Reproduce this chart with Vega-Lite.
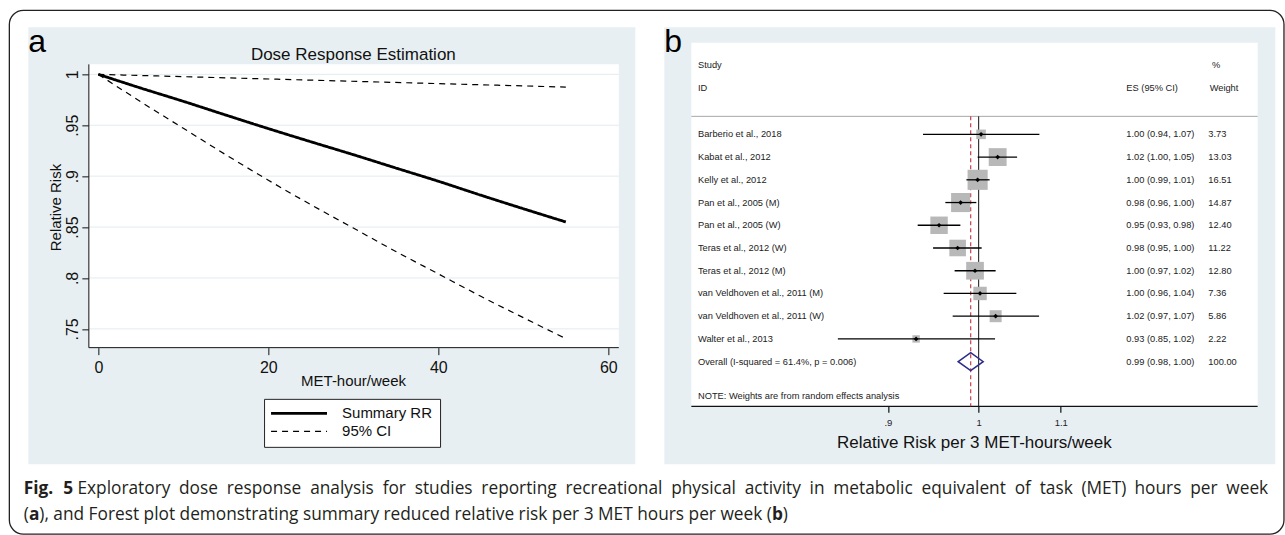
{
  "$schema": "https://vega.github.io/schema/vega-lite/v6.json",
  "background": "white",
  "padding": {"left": 8.35, "top": 9.35, "right": 0, "bottom": 0},
  "autosize": {"type": "pad"},
  "config": {
    "view": {"stroke": null},
    "font": "Liberation Sans",
    "axis": {"labelFont": "Liberation Sans", "titleFont": "Liberation Sans"}
  },
  "datasets": {
    "dose": [
      {"met": 0, "rr": 1.0, "curve": "Summary", "series": "Summary RR"},
      {"met": 5, "rr": 0.9865, "curve": "Summary", "series": "Summary RR"},
      {"met": 10, "rr": 0.9735, "curve": "Summary", "series": "Summary RR"},
      {"met": 15, "rr": 0.96, "curve": "Summary", "series": "Summary RR"},
      {"met": 20, "rr": 0.9467, "curve": "Summary", "series": "Summary RR"},
      {"met": 25, "rr": 0.9338, "curve": "Summary", "series": "Summary RR"},
      {"met": 30, "rr": 0.9211, "curve": "Summary", "series": "Summary RR"},
      {"met": 35, "rr": 0.908, "curve": "Summary", "series": "Summary RR"},
      {"met": 40, "rr": 0.895, "curve": "Summary", "series": "Summary RR"},
      {"met": 45, "rr": 0.8813, "curve": "Summary", "series": "Summary RR"},
      {"met": 50, "rr": 0.868, "curve": "Summary", "series": "Summary RR"},
      {"met": 55, "rr": 0.855, "curve": "Summary", "series": "Summary RR"},
      {"met": 0, "rr": 1.0, "curve": "Upper", "series": "95% CI"},
      {"met": 11, "rr": 0.9975, "curve": "Upper", "series": "95% CI"},
      {"met": 22, "rr": 0.995, "curve": "Upper", "series": "95% CI"},
      {"met": 33, "rr": 0.9925, "curve": "Upper", "series": "95% CI"},
      {"met": 44, "rr": 0.99, "curve": "Upper", "series": "95% CI"},
      {"met": 55, "rr": 0.9875, "curve": "Upper", "series": "95% CI"},
      {"met": 0, "rr": 1.0, "curve": "Lower", "series": "95% CI"},
      {"met": 5, "rr": 0.973, "curve": "Lower", "series": "95% CI"},
      {"met": 10, "rr": 0.947, "curve": "Lower", "series": "95% CI"},
      {"met": 15, "rr": 0.921, "curve": "Lower", "series": "95% CI"},
      {"met": 20, "rr": 0.896, "curve": "Lower", "series": "95% CI"},
      {"met": 25, "rr": 0.872, "curve": "Lower", "series": "95% CI"},
      {"met": 30, "rr": 0.849, "curve": "Lower", "series": "95% CI"},
      {"met": 35, "rr": 0.826, "curve": "Lower", "series": "95% CI"},
      {"met": 40, "rr": 0.804, "curve": "Lower", "series": "95% CI"},
      {"met": 45, "rr": 0.782, "curve": "Lower", "series": "95% CI"},
      {"met": 50, "rr": 0.761, "curve": "Lower", "series": "95% CI"},
      {"met": 55, "rr": 0.7404, "curve": "Lower", "series": "95% CI"}
    ],
    "grid": [{"v": 0.75}, {"v": 0.8}, {"v": 0.85}, {"v": 0.9}, {"v": 0.95}, {"v": 1.0}],
    "forest": [
      {"study": "Barberio et al., 2018", "row": 1, "es": 1.0028, "lo": 0.9375, "hi": 1.073, "weight": 3.73, "ci": "1.00 (0.94, 1.07)", "type": "study"},
      {"study": "Kabat et al., 2012", "row": 2, "es": 1.0223, "lo": 0.9988, "hi": 1.0456, "weight": 13.03, "ci": "1.02 (1.00, 1.05)", "type": "study"},
      {"study": "Kelly et al., 2012", "row": 3, "es": 0.9988, "lo": 0.9859, "hi": 1.0128, "weight": 16.51, "ci": "1.00 (0.99, 1.01)", "type": "study"},
      {"study": "Pan et al., 2005 (M)", "row": 4, "es": 0.9793, "lo": 0.9621, "hi": 0.9973, "weight": 14.87, "ci": "0.98 (0.96, 1.00)", "type": "study"},
      {"study": "Pan et al., 2005 (W)", "row": 5, "es": 0.9551, "lo": 0.9317, "hi": 0.979, "weight": 12.4, "ci": "0.95 (0.93, 0.98)", "type": "study"},
      {"study": "Teras et al., 2012 (W)", "row": 6, "es": 0.9759, "lo": 0.9485, "hi": 1.0035, "weight": 11.22, "ci": "0.98 (0.95, 1.00)", "type": "study"},
      {"study": "Teras et al., 2012 (M)", "row": 7, "es": 0.9958, "lo": 0.9725, "hi": 1.0199, "weight": 12.8, "ci": "1.00 (0.97, 1.02)", "type": "study"},
      {"study": "van Veldhoven et al., 2011 (M)", "row": 8, "es": 1.0016, "lo": 0.9602, "hi": 1.0447, "weight": 7.36, "ci": "1.00 (0.96, 1.04)", "type": "study"},
      {"study": "van Veldhoven et al., 2011 (W)", "row": 9, "es": 1.0199, "lo": 0.9703, "hi": 1.0726, "weight": 5.86, "ci": "1.02 (0.97, 1.07)", "type": "study"},
      {"study": "Walter et al., 2013", "row": 10, "es": 0.93, "lo": 0.8493, "hi": 1.0192, "weight": 2.22, "ci": "0.93 (0.85, 1.02)", "type": "study"},
      {"study": "Overall  (I-squared = 61.4%, p = 0.006)", "row": 11, "es": 0.9908, "lo": 0.9764, "hi": 1.0051, "weight": 100.0, "ci": "0.99 (0.98, 1.00)", "type": "overall"}
    ]
  },
  "hconcat": [
    {
      "width": 607,
      "height": 437,
      "view": {"fill": "#e8eff2", "stroke": null},
      "resolve": {"axis": {"x": "independent", "y": "independent"}},
      "layer": [
        {
          "data": {"values": [{}]},
          "mark": {"type": "rect", "fill": "white"},
          "encoding": {
            "x": {
              "datum": -1.118, "type": "quantitative",
              "scale": {"domain": [-8.235, 63.18], "nice": false, "zero": false},
              "axis": {
                "orient": "bottom", "offset": -116.7, "values": [0, 20, 40, 60], "format": "d",
                "domain": false, "grid": false, "tickSize": 7, "tickColor": "#111", "tickWidth": 1,
                "labelFontSize": 16, "labelColor": "#111", "labelPadding": 4.5, "labelFlush": false, "labelOverlap": false,
                "title": "MET-hour/week", "titleFontSize": 15, "titleFontWeight": "normal", "titleColor": "#111",
                "titleX": 324.7, "titleY": 26.2, "titleBaseline": "top", "titleAlign": "center"
              }
            },
            "x2": {"datum": 61.235},
            "y": {
              "datum": 1.00982, "type": "quantitative",
              "scale": {"domain": [0.6169, 1.04617], "nice": false, "zero": false},
              "axis": {
                "orient": "left", "offset": -60.5, "values": [0.75, 0.8, 0.85, 0.9, 0.95, 1],
                "labelExpr": "datum.value >= 1 ? '1' : substring(format(datum.value, '.2~f'), 1)",
                "domain": false, "grid": false, "tickSize": 7, "tickColor": "#111", "tickWidth": 1,
                "labelAngle": -90, "labelAlign": "center", "labelBaseline": "alphabetic", "labelPadding": 4,
                "labelFontSize": 16, "labelColor": "#111", "labelFlush": false, "labelOverlap": false,
                "title": "Relative Risk", "titleFontSize": 15, "titleFontWeight": "normal", "titleColor": "#111",
                "titleAngle": -90, "titleAlign": "center", "titleBaseline": "middle", "titleX": -33.5, "titleY": 179.7
              }
            },
            "y2": {"datum": 0.73153}
          }
        },
        {
          "data": {"name": "grid"},
          "mark": {"type": "rule", "color": "#e2ebef", "strokeWidth": 1},
          "encoding": {
            "x": {"datum": -1.118, "type": "quantitative", "axis": null},
            "x2": {"datum": 61.235},
            "y": {"field": "v", "type": "quantitative", "axis": null}
          }
        },
        {
          "data": {"values": [{}]},
          "mark": {"type": "rule", "color": "#111", "strokeWidth": 1},
          "encoding": {
            "x": {"datum": -1.118, "type": "quantitative", "axis": null},
            "y": {"datum": 1.00982, "type": "quantitative", "axis": null},
            "y2": {"datum": 0.73153}
          }
        },
        {
          "data": {"values": [{}]},
          "mark": {"type": "rule", "color": "#111", "strokeWidth": 1},
          "encoding": {
            "x": {"datum": -1.118, "type": "quantitative", "axis": null},
            "x2": {"datum": 61.235},
            "y": {"datum": 0.73153, "type": "quantitative", "axis": null}
          }
        },
        {
          "data": {"name": "dose"},
          "mark": {"type": "line", "color": "#000", "interpolate": "monotone"},
          "encoding": {
            "x": {"field": "met", "type": "quantitative", "axis": null},
            "y": {"field": "rr", "type": "quantitative", "axis": null},
            "detail": {"field": "curve", "type": "nominal"},
            "strokeDash": {
              "field": "series", "type": "nominal",
              "scale": {"domain": ["Summary RR", "95% CI"], "range": [[1, 0], [6, 5]]},
              "legend": {
                "orient": "none", "legendX": 235.7, "legendY": 371.5, "title": null, "direction": "vertical",
                "symbolType": "M-1.25,0H8.08", "symbolSize": 144, "symbolStrokeColor": "#000", "symbolFillColor": "transparent",
                "symbolOffset": 0, "labelOffset": 56, "labelFont": "Liberation Sans", "labelFontSize": 15, "labelColor": "#111",
                "labelLimit": 300, "padding": 7, "rowPadding": 2, "strokeColor": "#222", "fillColor": "#ffffff", "cornerRadius": 0
              }
            },
            "strokeWidth": {
              "field": "series", "type": "ordinal",
              "scale": {"domain": ["Summary RR", "95% CI"], "range": [2.8, 1.2]},
              "legend": {
                "orient": "none", "legendX": 235.7, "legendY": 371.5, "title": null, "direction": "vertical",
                "symbolType": "M-1.25,0H8.08", "symbolSize": 144, "symbolStrokeColor": "#000", "symbolFillColor": "transparent",
                "symbolOffset": 0, "labelOffset": 56, "labelFont": "Liberation Sans", "labelFontSize": 15, "labelColor": "#111",
                "labelLimit": 300, "padding": 7, "rowPadding": 2, "strokeColor": "#222", "fillColor": "#ffffff", "cornerRadius": 0
              }
            }
          }
        },
        {
          "data": {"values": [{}]},
          "mark": {"type": "text", "text": "Dose Response Estimation", "font": "Liberation Sans", "fontSize": 17, "color": "#111", "align": "center", "baseline": "middle"},
          "encoding": {
            "x": {"datum": 30.0, "type": "quantitative", "axis": null},
            "y": {"datum": 1.0194, "type": "quantitative", "axis": null}
          }
        },
        {
          "data": {"values": [{}]},
          "mark": {"type": "text", "text": "a", "font": "Liberation Sans", "fontSize": 32, "color": "#000", "align": "left", "baseline": "alphabetic"},
          "encoding": {
            "x": {"datum": -8.235, "type": "quantitative", "axis": null},
            "y": {"datum": 1.0216, "type": "quantitative", "axis": null}
          }
        },
        {
          "data": {"values": [{}]},
          "mark": {"type": "rect", "fill": null, "filled": false, "stroke": "#222", "strokeWidth": 1.3, "cornerRadius": 14},
          "encoding": {
            "x": {"datum": -10.4706, "type": "quantitative", "axis": null},
            "x2": {"datum": 139.494},
            "y": {"datum": 1.06287, "type": "quantitative", "axis": null},
            "y2": {"datum": 0.54843}
          }
        },
        {"data": {"values": [{}]}, "mark": {"type": "text", "text": "Fig.", "font": "Open Sans", "fontSize": 17.3, "fontWeight": "bold", "color": "#231f20", "align": "left", "baseline": "alphabetic"},
         "encoding": {"x": {"datum": -8.7647, "type": "quantitative", "axis": null}, "y": {"datum": 0.58743, "type": "quantitative", "axis": null}}},
        {"data": {"values": [{}]}, "mark": {"type": "text", "text": "5", "font": "Open Sans", "fontSize": 17.3, "fontWeight": "bold", "color": "#231f20", "align": "left", "baseline": "alphabetic"},
         "encoding": {"x": {"datum": -4.1176, "type": "quantitative", "axis": null}, "y": {"datum": 0.58743, "type": "quantitative", "axis": null}}},
        {"data": {"values": [{}]}, "mark": {"type": "text", "text": "Exploratory", "font": "Open Sans", "fontSize": 17.3, "color": "#231f20", "align": "left", "baseline": "alphabetic"},
         "encoding": {"x": {"datum": -2.4588, "type": "quantitative", "axis": null}, "y": {"datum": 0.58743, "type": "quantitative", "axis": null}}},
        {"data": {"values": [{}]}, "mark": {"type": "text", "text": "dose", "font": "Open Sans", "fontSize": 17.3, "color": "#231f20", "align": "left", "baseline": "alphabetic"},
         "encoding": {"x": {"datum": 9.4929, "type": "quantitative", "axis": null}, "y": {"datum": 0.58743, "type": "quantitative", "axis": null}}},
        {"data": {"values": [{}]}, "mark": {"type": "text", "text": "response", "font": "Open Sans", "fontSize": 17.3, "color": "#231f20", "align": "left", "baseline": "alphabetic"},
         "encoding": {"x": {"datum": 15.1082, "type": "quantitative", "axis": null}, "y": {"datum": 0.58743, "type": "quantitative", "axis": null}}},
        {"data": {"values": [{}]}, "mark": {"type": "text", "text": "analysis", "font": "Open Sans", "fontSize": 17.3, "color": "#231f20", "align": "left", "baseline": "alphabetic"},
         "encoding": {"x": {"datum": 24.9165, "type": "quantitative", "axis": null}, "y": {"datum": 0.58743, "type": "quantitative", "axis": null}}},
        {"data": {"values": [{}]}, "mark": {"type": "text", "text": "for", "font": "Open Sans", "fontSize": 17.3, "color": "#231f20", "align": "left", "baseline": "alphabetic"},
         "encoding": {"x": {"datum": 33.4482, "type": "quantitative", "axis": null}, "y": {"datum": 0.58743, "type": "quantitative", "axis": null}}},
        {"data": {"values": [{}]}, "mark": {"type": "text", "text": "studies", "font": "Open Sans", "fontSize": 17.3, "color": "#231f20", "align": "left", "baseline": "alphabetic"},
         "encoding": {"x": {"datum": 37.2235, "type": "quantitative", "axis": null}, "y": {"datum": 0.58743, "type": "quantitative", "axis": null}}},
        {"data": {"values": [{}]}, "mark": {"type": "text", "text": "reporting", "font": "Open Sans", "fontSize": 17.3, "color": "#231f20", "align": "left", "baseline": "alphabetic"},
         "encoding": {"x": {"datum": 45.0635, "type": "quantitative", "axis": null}, "y": {"datum": 0.58743, "type": "quantitative", "axis": null}}},
        {"data": {"values": [{}]}, "mark": {"type": "text", "text": "recreational", "font": "Open Sans", "fontSize": 17.3, "color": "#231f20", "align": "left", "baseline": "alphabetic"},
         "encoding": {"x": {"datum": 54.9671, "type": "quantitative", "axis": null}, "y": {"datum": 0.58743, "type": "quantitative", "axis": null}}},
        {"data": {"values": [{}]}, "mark": {"type": "text", "text": "physical", "font": "Open Sans", "fontSize": 17.3, "color": "#231f20", "align": "left", "baseline": "alphabetic"},
         "encoding": {"x": {"datum": 67.3965, "type": "quantitative", "axis": null}, "y": {"datum": 0.58743, "type": "quantitative", "axis": null}}},
        {"data": {"values": [{}]}, "mark": {"type": "text", "text": "activity", "font": "Open Sans", "fontSize": 17.3, "color": "#231f20", "align": "left", "baseline": "alphabetic"},
         "encoding": {"x": {"datum": 76.0424, "type": "quantitative", "axis": null}, "y": {"datum": 0.58743, "type": "quantitative", "axis": null}}},
        {"data": {"values": [{}]}, "mark": {"type": "text", "text": "in", "font": "Open Sans", "fontSize": 17.3, "color": "#231f20", "align": "left", "baseline": "alphabetic"},
         "encoding": {"x": {"datum": 83.6765, "type": "quantitative", "axis": null}, "y": {"datum": 0.58743, "type": "quantitative", "axis": null}}},
        {"data": {"values": [{}]}, "mark": {"type": "text", "text": "metabolic", "font": "Open Sans", "fontSize": 17.3, "color": "#231f20", "align": "left", "baseline": "alphabetic"},
         "encoding": {"x": {"datum": 86.4671, "type": "quantitative", "axis": null}, "y": {"datum": 0.58743, "type": "quantitative", "axis": null}}},
        {"data": {"values": [{}]}, "mark": {"type": "text", "text": "equivalent", "font": "Open Sans", "fontSize": 17.3, "color": "#231f20", "align": "left", "baseline": "alphabetic"},
         "encoding": {"x": {"datum": 96.8529, "type": "quantitative", "axis": null}, "y": {"datum": 0.58743, "type": "quantitative", "axis": null}}},
        {"data": {"values": [{}]}, "mark": {"type": "text", "text": "of", "font": "Open Sans", "fontSize": 17.3, "color": "#231f20", "align": "left", "baseline": "alphabetic"},
         "encoding": {"x": {"datum": 107.8094, "type": "quantitative", "axis": null}, "y": {"datum": 0.58743, "type": "quantitative", "axis": null}}},
        {"data": {"values": [{}]}, "mark": {"type": "text", "text": "task", "font": "Open Sans", "fontSize": 17.3, "color": "#231f20", "align": "left", "baseline": "alphabetic"},
         "encoding": {"x": {"datum": 110.7541, "type": "quantitative", "axis": null}, "y": {"datum": 0.58743, "type": "quantitative", "axis": null}}},
        {"data": {"values": [{}]}, "mark": {"type": "text", "text": "(MET)", "font": "Open Sans", "fontSize": 17.3, "color": "#231f20", "align": "left", "baseline": "alphabetic"},
         "encoding": {"x": {"datum": 115.6694, "type": "quantitative", "axis": null}, "y": {"datum": 0.58743, "type": "quantitative", "axis": null}}},
        {"data": {"values": [{}]}, "mark": {"type": "text", "text": "hours", "font": "Open Sans", "fontSize": 17.3, "color": "#231f20", "align": "left", "baseline": "alphabetic"},
         "encoding": {"x": {"datum": 121.9059, "type": "quantitative", "axis": null}, "y": {"datum": 0.58743, "type": "quantitative", "axis": null}}},
        {"data": {"values": [{}]}, "mark": {"type": "text", "text": "per", "font": "Open Sans", "fontSize": 17.3, "color": "#231f20", "align": "left", "baseline": "alphabetic"},
         "encoding": {"x": {"datum": 128.4612, "type": "quantitative", "axis": null}, "y": {"datum": 0.58743, "type": "quantitative", "axis": null}}},
        {"data": {"values": [{}]}, "mark": {"type": "text", "text": "week", "font": "Open Sans", "fontSize": 17.3, "color": "#231f20", "align": "left", "baseline": "alphabetic"},
         "encoding": {"x": {"datum": 132.7071, "type": "quantitative", "axis": null}, "y": {"datum": 0.58743, "type": "quantitative", "axis": null}}},
        {"data": {"values": [{}]}, "mark": {"type": "text", "text": "(", "font": "Open Sans", "fontSize": 17.3, "color": "#231f20", "align": "left", "baseline": "alphabetic"},
         "encoding": {"x": {"datum": -8.7647, "type": "quantitative", "axis": null}, "y": {"datum": 0.56189, "type": "quantitative", "axis": null}}},
        {"data": {"values": [{}]}, "mark": {"type": "text", "text": "a", "font": "Open Sans", "fontSize": 17.3, "fontWeight": "bold", "color": "#231f20", "align": "left", "baseline": "alphabetic"},
         "encoding": {"x": {"datum": -8.1729, "type": "quantitative", "axis": null}, "y": {"datum": 0.56189, "type": "quantitative", "axis": null}}},
        {"data": {"values": [{}]}, "mark": {"type": "text", "text": "), and Forest plot demonstrating summary reduced relative risk per 3 MET hours per week (", "font": "Open Sans", "fontSize": 17.3, "color": "#231f20", "align": "left", "baseline": "alphabetic"},
         "encoding": {"x": {"datum": -6.9471, "type": "quantitative", "axis": null}, "y": {"datum": 0.56189, "type": "quantitative", "axis": null}}},
        {"data": {"values": [{}]}, "mark": {"type": "text", "text": "b", "font": "Open Sans", "fontSize": 17.3, "fontWeight": "bold", "color": "#231f20", "align": "left", "baseline": "alphabetic"},
         "encoding": {"x": {"datum": 79.2529, "type": "quantitative", "axis": null}, "y": {"datum": 0.56189, "type": "quantitative", "axis": null}}},
        {"data": {"values": [{}]}, "mark": {"type": "text", "text": ")", "font": "Open Sans", "fontSize": 17.3, "color": "#231f20", "align": "left", "baseline": "alphabetic"},
         "encoding": {"x": {"datum": 80.5118, "type": "quantitative", "axis": null}, "y": {"datum": 0.56189, "type": "quantitative", "axis": null}}}
      ]
    },
    {
      "width": 611,
      "height": 437,
      "view": {"fill": "#e8eff2", "stroke": null},
      "resolve": {"axis": {"x": "independent", "y": "independent"}},
      "layer": [
        {
          "data": {"values": [{}]},
          "mark": {"type": "rect", "fill": "white"},
          "encoding": {
            "x": {
              "datum": 0.71653, "type": "quantitative",
              "scale": {"type": "log", "domain": [0.69443, 1.41088], "nice": false, "zero": false},
              "axis": {
                "orient": "bottom", "offset": -58, "values": [0.9, 1, 1.1],
                "labelExpr": "datum.value == 1 ? '1' : (datum.value < 1 ? substring(format(datum.value, '.1f'), 1) : format(datum.value, '.1f'))",
                "domain": false, "grid": false, "ticks": true, "tickSize": 6, "tickColor": "#111", "tickWidth": 1.2,
                "labelFontSize": 9.5, "labelColor": "#222", "labelPadding": 5.6, "labelBaseline": "top", "labelFlush": false, "labelOverlap": false,
                "title": "Relative Risk per 3 MET-hours/week", "titleFontSize": 17, "titleFontWeight": "normal", "titleColor": "#111",
                "titleX": 309.5, "titleY": 28.4, "titleBaseline": "top", "titleAlign": "center"
              }
            },
            "x2": {"datum": 1.38219},
            "y": {
              "datum": -3.0343, "type": "quantitative",
              "scale": {"domain": [-3.7074, 15.518], "reverse": true, "nice": false, "zero": false},
              "axis": null
            },
            "y2": {"datum": 12.967}
          }
        },
        {
          "data": {"values": [{}]},
          "mark": {"type": "rule", "color": "#a8a8a8", "strokeWidth": 1},
          "encoding": {
            "x": {"datum": 0.71653, "type": "quantitative", "axis": null},
            "x2": {"datum": 1.38219},
            "y": {"datum": 0.2081, "type": "quantitative", "axis": null}
          }
        },
        {
          "data": {"values": [{}]},
          "mark": {"type": "rule", "color": "#111", "strokeWidth": 1.3},
          "encoding": {
            "x": {"datum": 0.71653, "type": "quantitative", "axis": null},
            "x2": {"datum": 1.38219},
            "y": {"datum": 12.967, "type": "quantitative", "axis": null}
          }
        },
        {
          "data": {"name": "forest"},
          "transform": [{"filter": "datum.type == 'overall'"}],
          "mark": {"type": "rule", "color": "#c8404a", "strokeWidth": 1.2, "strokeDash": [4, 3]},
          "encoding": {
            "x": {"field": "es", "type": "quantitative", "axis": null},
            "y": {"datum": 0.2081, "type": "quantitative", "axis": null},
            "y2": {"datum": 12.967}
          }
        },
        {
          "data": {"values": [{}]},
          "mark": {"type": "rule", "color": "#111", "strokeWidth": 1},
          "encoding": {
            "x": {"datum": 1, "type": "quantitative", "axis": null},
            "y": {"datum": 0.2081, "type": "quantitative", "axis": null},
            "y2": {"datum": 12.967}
          }
        },
        {
          "data": {"name": "forest"},
          "transform": [{"filter": "datum.type == 'study'"}],
          "mark": {"type": "point", "shape": "square", "filled": true, "color": "#b8b8b8", "opacity": 1, "strokeWidth": 0},
          "encoding": {
            "x": {"field": "es", "type": "quantitative", "axis": null},
            "y": {"field": "row", "type": "quantitative", "axis": null},
            "size": {"field": "weight", "type": "quantitative", "scale": {"domain": [0, 100], "range": [0, 2450], "zero": true}, "legend": null}
          }
        },
        {
          "data": {"name": "forest"},
          "transform": [{"filter": "datum.type == 'study'"}],
          "mark": {"type": "rule", "color": "#000", "strokeWidth": 1.3},
          "encoding": {
            "x": {"field": "lo", "type": "quantitative", "axis": null},
            "x2": {"field": "hi"},
            "y": {"field": "row", "type": "quantitative", "axis": null}
          }
        },
        {
          "data": {"name": "forest"},
          "transform": [{"filter": "datum.type == 'study'"}],
          "mark": {"type": "point", "shape": "diamond", "filled": true, "color": "#000", "opacity": 1, "size": 22},
          "encoding": {
            "x": {"field": "es", "type": "quantitative", "axis": null},
            "y": {"field": "row", "type": "quantitative", "axis": null}
          }
        },
        {
          "data": {"name": "forest"},
          "transform": [{"filter": "datum.type == 'overall'"}],
          "mark": {"type": "point", "shape": "M-1,0L0,-0.72L1,0L0,0.72Z", "filled": false, "color": "#2b2b8a", "strokeWidth": 1.5, "opacity": 1, "size": 625},
          "encoding": {
            "x": {"field": "es", "type": "quantitative", "axis": null},
            "y": {"field": "row", "type": "quantitative", "axis": null}
          }
        },
        {
          "data": {"name": "forest"},
          "mark": {"type": "text", "font": "Liberation Sans", "fontSize": 9.3, "color": "#222", "align": "left", "baseline": "middle"},
          "encoding": {
            "x": {"datum": 0.72205, "type": "quantitative", "axis": null},
            "y": {"field": "row", "type": "quantitative", "axis": null},
            "text": {"field": "study"}
          }
        },
        {
          "data": {"name": "forest"},
          "mark": {"type": "text", "font": "Liberation Sans", "fontSize": 9.3, "color": "#222", "align": "left", "baseline": "middle"},
          "encoding": {
            "x": {"datum": 1.1869, "type": "quantitative", "axis": null},
            "y": {"field": "row", "type": "quantitative", "axis": null},
            "text": {"field": "ci"}
          }
        },
        {
          "data": {"name": "forest"},
          "mark": {"type": "text", "font": "Liberation Sans", "fontSize": 9.3, "color": "#222", "align": "left", "baseline": "middle"},
          "encoding": {
            "x": {"datum": 1.30535, "type": "quantitative", "axis": null},
            "y": {"field": "row", "type": "quantitative", "axis": null},
            "text": {"field": "weight", "type": "quantitative", "format": ".2f"}
          }
        },
        {
          "data": {"values": [{}]},
          "mark": {"type": "text", "text": "Study", "font": "Liberation Sans", "fontSize": 9.3, "color": "#222", "align": "left", "baseline": "middle"},
          "encoding": {
            "x": {"datum": 0.72205, "type": "quantitative", "axis": null},
            "y": {"datum": -2.0356, "type": "quantitative", "axis": null}
          }
        },
        {
          "data": {"values": [{}]},
          "mark": {"type": "text", "text": "ID", "font": "Liberation Sans", "fontSize": 9.3, "color": "#222", "align": "left", "baseline": "middle"},
          "encoding": {
            "x": {"datum": 0.72205, "type": "quantitative", "axis": null},
            "y": {"datum": -1.0238, "type": "quantitative", "axis": null}
          }
        },
        {
          "data": {"values": [{}]},
          "mark": {"type": "text", "text": "ES (95% CI)", "font": "Liberation Sans", "fontSize": 9.3, "color": "#222", "align": "left", "baseline": "middle"},
          "encoding": {
            "x": {"datum": 1.1869, "type": "quantitative", "axis": null},
            "y": {"datum": -1.0238, "type": "quantitative", "axis": null}
          }
        },
        {
          "data": {"values": [{}]},
          "mark": {"type": "text", "text": "%", "font": "Liberation Sans", "fontSize": 9.3, "color": "#222", "align": "left", "baseline": "middle"},
          "encoding": {
            "x": {"datum": 1.31098, "type": "quantitative", "axis": null},
            "y": {"datum": -2.0356, "type": "quantitative", "axis": null}
          }
        },
        {
          "data": {"values": [{}]},
          "mark": {"type": "text", "text": "Weight", "font": "Liberation Sans", "fontSize": 9.3, "color": "#222", "align": "left", "baseline": "middle"},
          "encoding": {
            "x": {"datum": 1.30731, "type": "quantitative", "axis": null},
            "y": {"datum": -1.0238, "type": "quantitative", "axis": null}
          }
        },
        {
          "data": {"values": [{}]},
          "mark": {"type": "text", "text": "NOTE: Weights are from random effects analysis", "font": "Liberation Sans", "fontSize": 9.3, "color": "#222", "align": "left", "baseline": "middle"},
          "encoding": {
            "x": {"datum": 0.72205, "type": "quantitative", "axis": null},
            "y": {"datum": 12.513, "type": "quantitative", "axis": null}
          }
        },
        {
          "data": {"values": [{}]},
          "mark": {"type": "text", "text": "b", "font": "Liberation Sans", "fontSize": 32, "color": "#000", "align": "left", "baseline": "alphabetic"},
          "encoding": {
            "x": {"datum": 0.69443, "type": "quantitative", "axis": null},
            "y": {"datum": -2.6075, "type": "quantitative", "axis": null}
          }
        }
      ]
    }
  ],
  "spacing": 29,
  "bounds": "flush"
}
